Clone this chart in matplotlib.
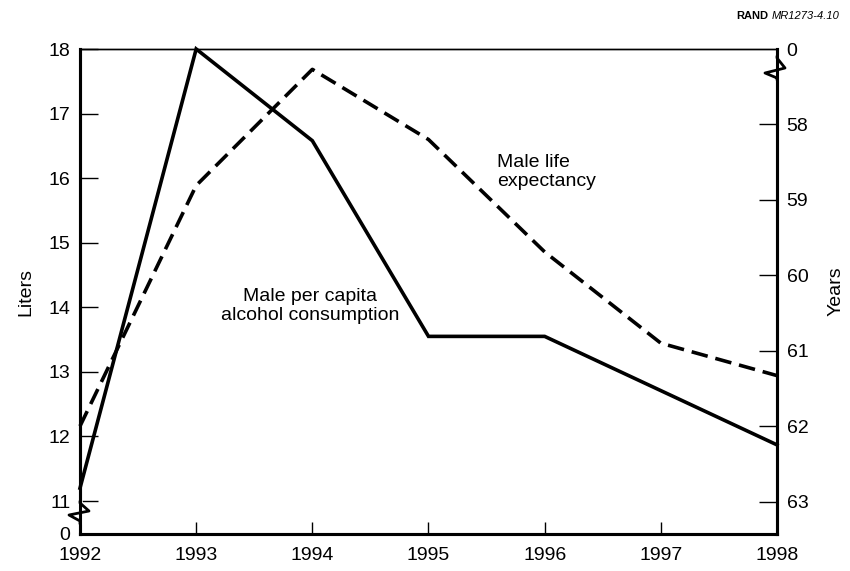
import matplotlib.pyplot as plt

plt.rcParams['font.family'] = ['Liberation Sans', 'DejaVu Sans']

years = [1992, 1993, 1994, 1995, 1996, 1997, 1998]
alcohol = [11.2, 18.0, 16.58, 13.55, 13.55, 12.71, 11.87]   # liters, left axis
life_exp = [62.0, 58.81, 57.27, 58.2, 59.69, 60.9, 61.33]   # years, right axis (inverted)

left_ticks = [10.49, 11, 12, 13, 14, 15, 16, 17, 18]
left_labels = ['0', '11', '12', '13', '14', '15', '16', '17', '18']
right_ticks = [57, 58, 59, 60, 61, 62, 63]
right_labels = ['0', '58', '59', '60', '61', '62', '63']

W, H = 850, 571
fig = plt.figure(figsize=(W / 100, H / 100), dpi=100)
L, R, T, B = 80, 777, 49, 534
ax = fig.add_axes([L / W, (H - B) / H, (R - L) / W, (B - T) / H])
ax2 = ax.twinx()

ax.plot(years, alcohol, color='black', lw=2.6, clip_on=False, solid_joinstyle='miter', zorder=3)
ax2.plot(years, life_exp, color='black', lw=2.6, dashes=(4.6, 2.2), clip_on=False, zorder=3)

ax.set_xlim(1992, 1998)
ax.set_ylim(10.49, 18)
ax2.set_ylim(63.43, 57)

ax.set_xticks(years)
ax.set_xticklabels([str(y) for y in years])
ax.set_yticks(left_ticks)
ax.set_yticklabels(left_labels)
ax2.set_yticks(right_ticks)
ax2.set_yticklabels(right_labels)

ax.tick_params(axis='x', direction='in', length=9, width=1, labelsize=14, pad=9)
ax.tick_params(axis='y', direction='in', length=13, width=1, labelsize=14, pad=7)
ax2.tick_params(axis='y', direction='in', length=13, width=1, labelsize=14, pad=7)
ax.yaxis.get_major_ticks()[0].tick1line.set_visible(False)
ax2.yaxis.get_major_ticks()[0].tick2line.set_visible(False)

for a in (ax, ax2):
    for s in ('left', 'right', 'bottom'):
        a.spines[s].set_linewidth(2.2)
    a.spines['top'].set_linewidth(1.0)

ax.set_ylabel('Liters', fontsize=14, labelpad=10)
ax2.set_ylabel('Years', fontsize=14, labelpad=14, rotation=90)

# axis break marks (pixel offsets converted to axes fractions)
def fx(px):
    return (px - L) / (R - L)

def fy(py):
    return (B - py) / (B - T)

ax.plot([fx(L), fx(L)], [fy(503), fy(522)], transform=ax.transAxes,
        color='white', lw=4, clip_on=False, zorder=5)
ax.plot([fx(L), fx(L), fx(L + 9), fx(L - 11), fx(L), fx(L)],
        [fy(502), fy(503), fy(511), fy(515), fy(521), fy(523)], transform=ax.transAxes,
        color='black', lw=2.0, clip_on=False, zorder=6)
ax.plot([fx(R), fx(R)], [fy(58), fy(78)], transform=ax.transAxes,
        color='white', lw=4, clip_on=False, zorder=5)
ax.plot([fx(R), fx(R), fx(R + 8), fx(R - 12), fx(R), fx(R)],
        [fy(57), fy(58), fy(68), fy(73), fy(78), fy(79)], transform=ax.transAxes,
        color='black', lw=2.0, clip_on=False, zorder=6)

ax.text(fx(497), fy(172), 'Male life\nexpectancy', transform=ax.transAxes,
        fontsize=14, ha='left', va='center', linespacing=1.1)
ax.text(fx(310), fy(306), 'Male per capita\nalcohol consumption', transform=ax.transAxes,
        fontsize=14, ha='center', va='center', linespacing=1.1)

fig.text(768 / W, 1 - 16 / H, 'RAND', fontsize=8, fontweight='bold', ha='right', va='center')
fig.text(772 / W, 1 - 16 / H, 'MR1273-4.10', fontsize=8, style='italic', ha='left', va='center')

fig.savefig('out.png', dpi=100)
